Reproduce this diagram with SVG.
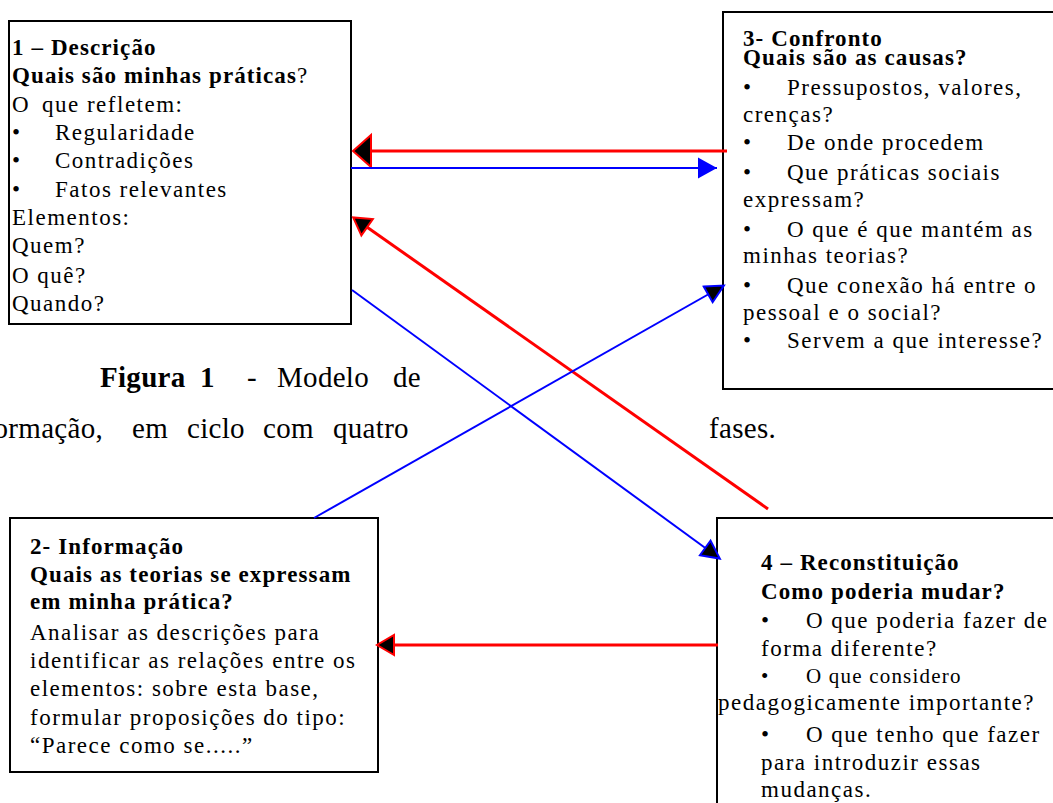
<svg xmlns="http://www.w3.org/2000/svg" width="1053" height="803" viewBox="0 0 1053 803">
<style>
.box{fill:#fff;stroke:#000;stroke-width:2}
text{font-family:"Liberation Serif","Times New Roman",serif;font-size:23px;fill:#000;letter-spacing:1.5px}
.b{font-weight:bold;letter-spacing:1.1px}
.sm{font-size:21px;letter-spacing:1.2px}
.cap{font-size:29px;letter-spacing:0.3px}
.red{stroke:#f00;stroke-width:3;fill:none}
.blue{stroke:#00f;stroke-width:2;fill:none}
</style>
<defs>
<marker id="redBig" markerUnits="userSpaceOnUse" markerWidth="30" markerHeight="40" refX="17" refY="16" orient="auto" overflow="visible"><path d="M0,0 L18,16 L0,32 z" fill="#000" stroke="#f00" stroke-width="2"/></marker>
<marker id="redArr" markerUnits="userSpaceOnUse" markerWidth="30" markerHeight="30" refX="16" refY="10" orient="auto" overflow="visible"><path d="M0,0 L17,10 L0,20 z" fill="#000" stroke="#f00" stroke-width="2"/></marker>
<marker id="blueFill" markerUnits="userSpaceOnUse" markerWidth="30" markerHeight="30" refX="19" refY="10.5" orient="auto" overflow="visible"><path d="M0,0 L19,10.5 L0,21 z" fill="#00f"/></marker>
<marker id="blueBlk" markerUnits="userSpaceOnUse" markerWidth="30" markerHeight="30" refX="17" refY="9" orient="auto" overflow="visible"><path d="M0,0 L18,9 L0,18 z" fill="#000" stroke="#00f" stroke-width="2"/></marker>
</defs>
<rect width="1053" height="803" fill="#fff"/>

<g id="caption">
<text class="cap" y="387"><tspan x="100" font-weight="bold">Figura</tspan><tspan x="200" font-weight="bold">1</tspan><tspan x="247">-</tspan><tspan x="277">Modelo</tspan><tspan x="393">de</tspan></text>
<text class="cap" y="438" x="103" text-anchor="end">formação,</text>
<text class="cap" y="438"><tspan x="132">em</tspan><tspan x="187">ciclo</tspan><tspan x="263">com</tspan><tspan x="333">quatro</tspan><tspan x="709">fases.</tspan></text>
</g>

<g id="node1">
<rect class="box" x="9" y="21" width="342" height="303"/>
<text class="b" x="12" y="55">1 – Descrição</text>
<text x="12" y="83"><tspan class="b">Quais são minhas práticas</tspan>?</text>
<text y="112"><tspan x="12">O</tspan><tspan x="42">que refletem:</tspan></text>
<text y="140"><tspan x="12">•</tspan><tspan x="55">Regularidade</tspan></text>
<text y="168"><tspan x="12">•</tspan><tspan x="55">Contradições</tspan></text>
<text y="197"><tspan x="12">•</tspan><tspan x="55">Fatos relevantes</tspan></text>
<text x="12" y="225">Elementos:</text>
<text x="12" y="253">Quem?</text>
<text x="12" y="283">O quê?</text>
<text x="12" y="311">Quando?</text>
</g>

<g id="node3">
<rect class="box" x="723" y="12" width="340" height="377"/>
<text class="b" x="743" y="46">3- Confronto</text>
<text class="b" x="743" y="65">Quais são as causas?</text>
<text y="95"><tspan x="743">•</tspan><tspan x="787">Pressupostos, valores,</tspan></text>
<text x="743" y="122">crenças?</text>
<text y="150"><tspan x="743">•</tspan><tspan x="787">De onde procedem</tspan></text>
<text y="180"><tspan x="743">•</tspan><tspan x="787">Que práticas sociais</tspan></text>
<text x="743" y="207">expressam?</text>
<text y="237"><tspan x="743">•</tspan><tspan x="787">O que é que mantém as</tspan></text>
<text x="743" y="263">minhas teorias?</text>
<text y="293"><tspan x="743">•</tspan><tspan x="787">Que conexão há entre o</tspan></text>
<text x="743" y="320">pessoal e o social?</text>
<text y="348"><tspan x="743">•</tspan><tspan x="787">Servem a que interesse?</tspan></text>
</g>

<g id="node2">
<rect class="box" x="10" y="518" width="368" height="254"/>
<text class="b" x="30" y="554">2- Informação</text>
<text class="b" x="30" y="582">Quais as teorias se expressam</text>
<text class="b" x="30" y="609">em minha prática?</text>
<text x="30" y="640">Analisar as descrições para</text>
<text x="30" y="668">identificar as relações entre os</text>
<text x="30" y="696">elementos: sobre esta base,</text>
<text x="30" y="725">formular proposições do tipo:</text>
<text x="30" y="753">“Parece como se.....”</text>
</g>

<g id="node4">
<rect class="box" x="717" y="518" width="350" height="300"/>
<text class="b" x="761" y="570">4 – Reconstituição</text>
<text class="b" x="761" y="599">Como poderia mudar?</text>
<text y="628"><tspan x="761">•</tspan><tspan x="806">O que poderia fazer de</tspan></text>
<text x="761" y="656">forma diferente?</text>
<text class="sm" y="683"><tspan x="761">•</tspan><tspan x="806">O que considero</tspan></text>
<text x="718" y="710">pedagogicamente importante?</text>
<text y="742"><tspan x="761">•</tspan><tspan x="806">O que tenho que fazer</tspan></text>
<text x="761" y="770">para introduzir essas</text>
<text x="761" y="797">mudanças.</text>
</g>

<g id="connectors">
<line class="red" x1="727" y1="151" x2="354" y2="151" marker-end="url(#redBig)"/>
<line class="blue" x1="351" y1="168" x2="717" y2="168" marker-end="url(#blueFill)"/>
<line class="red" x1="768" y1="509" x2="354" y2="218" marker-end="url(#redArr)"/>
<line class="blue" x1="352" y1="290" x2="719" y2="558" marker-end="url(#blueBlk)"/>
<line class="blue" x1="314" y1="518" x2="723" y2="286" marker-end="url(#blueBlk)"/>
<line class="red" x1="718" y1="645" x2="378" y2="645" marker-end="url(#redArr)"/>
</g>
</svg>
